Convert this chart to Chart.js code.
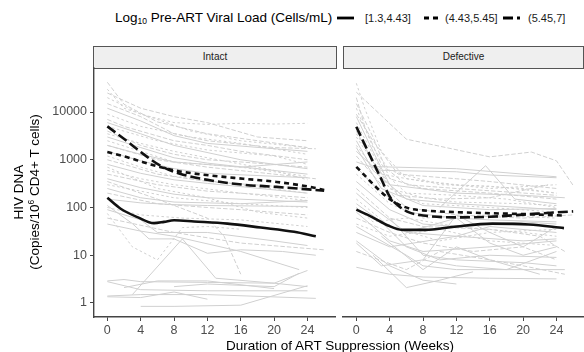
<!DOCTYPE html>
<html>
<head>
<meta charset="utf-8">
<script src="https://cdn.jsdelivr.net/npm/chart.js@4.4.1/dist/chart.umd.min.js"></script>
<style>
  body { margin: 0; background: #fff; font-family: 'Liberation Sans', Arial, sans-serif; }
  #wrap { position: relative; width: 584px; height: 352px; overflow: hidden; }
  .abs { position: absolute; white-space: nowrap; }
  .strip { position: absolute; box-sizing: border-box; background: #efefef; border: 1.5px solid #555;
           font-size: 10px; color: #1a1a1a; text-align: center; line-height: 19px; }
  .lg { position: absolute; top: 12px; font-size: 11px; color: #1a1a1a; line-height: 13px; }
  .ytitle { position: absolute; font-size: 13.5px; color: #000; transform: translate(-50%, -50%) rotate(-90deg); white-space: nowrap; }
  sub, sup { font-size: 8.5px; }
  sub { vertical-align: -2px; }
  sup { vertical-align: 5px; }
</style>
</head>
<body>
<div id="wrap">
  <div class="abs" style="left:115px;top:10px;font-size:13.5px;color:#000;">Log<sub>10</sub> Pre-ART Viral Load (Cells/mL)</div>
  <svg class="abs" style="left:337px;top:13px" width="17" height="10"><line x1="0" y1="5" x2="17" y2="5" stroke="#000" stroke-width="2.8"/></svg>
  <div class="lg" style="left:365px">[1.3,4.43]</div>
  <svg class="abs" style="left:424px;top:13px" width="17" height="10"><line x1="0" y1="5" x2="17" y2="5" stroke="#000" stroke-width="2.8" stroke-dasharray="5 4"/></svg>
  <div class="lg" style="left:445px">(4.43,5.45]</div>
  <svg class="abs" style="left:503px;top:13px" width="17" height="10"><line x1="0" y1="5" x2="17" y2="5" stroke="#000" stroke-width="2.8" stroke-dasharray="10 4"/></svg>
  <div class="lg" style="left:528px">(5.45,7]</div>

  <div class="strip" style="left:93px;top:46px;width:244px;height:23px;">Intact</div>
  <div class="strip" style="left:343px;top:46px;width:241px;height:23px;">Defective</div>

  <canvas id="intactChart" class="abs" style="left:0;top:66px" width="337" height="274"></canvas>
  <canvas id="defectiveChart" class="abs" style="left:341px;top:66px" width="243" height="274"></canvas>

  <div class="ytitle" style="left:18px;top:192px">HIV DNA</div>
  <div class="ytitle" style="left:34px;top:192px">(Copies/10<sup>6</sup> CD4+ T cells)</div>
  <div class="abs" style="left:340px;top:345px;transform:translate(-50%,-50%);font-size:13.5px;color:#000;">Duration of ART Suppression (Weeks)</div>
</div>

<script>
const vlGroups = ['[1.3,4.43]', '(4.43,5.45]', '(5.45,7]'];
const xTicks = [0, 4, 8, 12, 16, 20, 24];
const yTicks = [1, 10, 100, 1000, 10000];

// individual participants, [week, copies] pairs
const intactLow = [
  [[0,12000],[4,6500],[8,3200],[12,2200],[24,1500]],
  [[0,6000],[4,3500],[8,2000],[16,1000],[24,650]],
  [[0,3000],[4,1800],[8,1100],[12,850],[24,500]],
  [[0,1500],[4,950],[8,650],[12,520],[24,420]],
  [[0,800],[4,520],[8,380],[12,320],[24,200]],
  [[0,400],[4,260],[8,190],[12,160],[24,130]],
  [[0,150],[4,125],[8,115],[12,110],[24,105]],
  [[0,110],[3,46],[5,22],[8,22],[12,11],[16,13],[21,12],[25,10]],
  [[3,1.5],[9,22],[13,3.3],[20,2.6],[24,4.8]],
  [[0,45],[4,32],[8,25],[16,12],[23,5]],
  [[0,2.9],[2,3.1],[4,2.8],[12,2.7],[20,2.6],[24,2.2]],
  [[0,1.35],[4,1.3],[8,1.7],[12,1.2]],
  [[0,2.8],[4,1.9],[12,1.8],[24,1.8]],
  [[2,2.1],[6,2.9],[12,2.9],[20,2.0]],
  [[4,0.85],[8,0.85],[16,0.9],[24,2.3]],
  [[0,1.4],[4,1.5],[12,1.5],[25,1.25]],
  [[8,2.2],[12,2.5],[20,2.2],[23,4.2]],
  [[0,90],[4,55],[6,30],[12,30],[20,20],[24,16]],
  [[0,250],[4,160],[8,130],[16,120],[24,140]],
  [[0,2000],[4,1300],[8,900],[16,700],[24,900]]
];
const intactMid = [
  [[0,20000],[4,9000],[8,6000],[12,5500],[16,5800],[20,5600],[24,5800]],
  [[0,9000],[4,5000],[10,3000],[16,2200],[24,1300]],
  [[0,5000],[6,2500],[12,1600],[20,1200],[24,800]],
  [[0,2500],[4,1500],[8,900],[16,700],[24,450]],
  [[0,1200],[4,700],[8,450],[16,300],[24,200]],
  [[0,600],[4,400],[8,300],[16,200],[24,140]],
  [[0,300],[4,220],[8,160],[16,120],[24,100]],
  [[0,75],[3,15],[6,8],[9,38],[12,40],[16,35]],
  [[0,100],[4,70],[9,60],[16,55],[24,40]],
  [[0,30000],[2,12000],[6,7000],[10,4000],[16,2500],[24,1800]],
  [[0,3500],[4,2200],[8,1500],[12,1100],[20,600],[24,380]],
  [[0,700],[6,250],[12,160],[18,80],[24,60]]
];
const intactHigh = [
  [[0,42000],[2,14500],[6,6200],[12,3500],[24,1800]],
  [[0,15000],[4,8000],[8,3500],[12,2500],[20,1800],[25,1700]],
  [[0,7000],[2,5000],[8,2500],[12,2000],[16,1500],[24,1000]],
  [[0,4000],[4,2000],[8,1300],[12,1000],[16,900],[24,700]],
  [[0,2000],[6,1000],[12,700],[20,500],[25,400]],
  [[0,1000],[2,800],[6,500],[12,350],[24,250]],
  [[0,500],[6,300],[12,220],[20,180],[24,160]],
  [[0,200],[6,120],[12,100],[16,90],[24,70]],
  [[0,350],[6,150],[12,60],[14,25],[16,4]],
  [[0,60],[8,30],[16,18],[26,13]],
  [[0,25000],[4,12000],[8,8000],[12,6000],[18,3000],[24,2500]]
];

const defectiveLow = [
  [[0,1500],[2,720],[12,650],[20,500],[24,440]],
  [[0,900],[3,600],[12,560],[16,480],[24,420]],
  [[10,100],[15.5,750],[19,150],[24,120]],
  [[0,8000],[2,1500],[4,300],[12,200],[20,180],[25,160]],
  [[0,2500],[2,600],[6,150],[12,120],[20,100],[24,90]],
  [[0,700],[2,300],[6,80],[12,60],[16,55],[24,50]],
  [[0,350],[4,90],[8,45],[12,40],[20,50],[24,45]],
  [[0,200],[2,100],[6,30],[12,25],[20,20],[24,22]],
  [[0,120],[3,50],[6,15],[10,8],[16,10],[24,9]],
  [[0,80],[4,20],[8,12],[16,15],[24,20]],
  [[0,40],[6,10],[8,6],[12,5],[20,5],[25,5]],
  [[0,5.6],[4,4],[8,3.5],[16,3.3],[24,3.2]],
  [[2,10],[6,2.1],[10,3],[14,4.5]],
  [[0,20],[4,6],[8,3],[12,2.5]],
  [[4,60],[8,10],[12,8],[20,7],[24,6]],
  [[6,30],[12,60],[16,18],[20,10],[24,15]],
  [[0,30],[4,15],[12,25],[16,40],[24,30]],
  [[3,25],[8,5],[12,15],[16,8],[22,4]],
  [[0,1800],[3,250],[8,110],[16,90],[24,95]],
  [[8,8],[12,70],[16,30],[20,15],[24,40]],
  [[0,18],[3,6],[8,8],[12,6],[18,5],[24,12]]
];
const defectiveMid = [
  [[0,40000],[1,12000],[3,1500],[6,400],[12,300],[20,250],[24,200]],
  [[0,3000],[3,500],[8,350],[16,250],[24,300]],
  [[0,6000],[3,600],[6,200],[12,180],[18,150],[24,100]],
  [[0,2000],[4,250],[8,120],[16,100],[24,80]],
  [[0,500],[4,120],[8,60],[16,70],[24,60]],
  [[0,150],[4,40],[10,20],[16,30],[24,35]],
  [[0,100],[2,50],[6,60],[12,40],[20,30],[24,25]],
  [[0,3500],[2,1000],[4,250],[8,160],[12,130],[20,120],[24,110]],
  [[0,45],[4,25],[10,35],[16,20],[24,16]],
  [[0,12000],[2,1800],[4,600],[10,300],[16,280],[24,200]]
];
const defectiveHigh = [
  [[0,26000],[6,2700],[16,1150],[21,1450],[24,950],[26,290]],
  [[0,15000],[2,3000],[4,400],[8,250],[16,200],[24,150]],
  [[0,4000],[2,900],[5,180],[10,150],[16,160],[23,300]],
  [[0,1200],[3,300],[6,100],[12,70],[20,60],[26,70]],
  [[0,250],[4,60],[8,40],[16,35],[22,25],[25,12]],
  [[0,60],[4,30],[8,18],[14,12],[20,15],[24,8]],
  [[0,9000],[2,2500],[5,500],[12,400],[16,350],[24,250]],
  [[0,12],[6,5],[10,12],[16,8],[20,6],[25,4]],
  [[0,20000],[1,5000],[3,800],[6,300],[12,250],[24,180]]
];

// smoothed group means
const intactFitLow = [[0,160],[1.6,94],[3.6,63],[5.6,47],[6.8,50],[8,54],[10.4,51],[14.4,46],[18.4,38],[22.4,31],[25,25]];
const intactFitMid = [[0,1450],[2.3,1140],[4.3,890],[6.3,705],[8.7,570],[12.3,470],[16.3,400],[20.3,343],[24.3,270],[26,232]];
const intactFitHigh = [[0,5000],[2.3,2500],[4.3,1330],[6.3,760],[8.7,510],[12.3,372],[16.3,300],[20.3,270],[26,225]];
const defectiveFitLow = [[0,90],[1.9,63],[3.8,42],[5.5,34],[8.3,34],[11.5,39],[16.3,46],[20.7,44],[24.9,37]];
const defectiveFitMid = [[0,710],[1,470],[2,310],[3,210],[4,150],[5,118],[6.4,95],[8,87],[12,80],[16,76],[20,73],[24.7,68]];
const defectiveFitHigh = [[0,4900],[1,2100],[2,900],[3,390],[4,170],[5,110],[6.4,78],[8,68],[12,62],[16,64],[20,71],[24,79],[26,83]];

const dashes = [[], [5, 4], [10, 4]];
const greyDashes = [[], [2.5, 2.5], [4.5, 2]];
const font = "'Liberation Sans', Arial, sans-serif";

function toXY(pts) { return pts.map(([x, y]) => ({ x: x, y: y })); }

function greyLines(groups) {
  const out = [];
  groups.forEach((traces, g) => {
    traces.forEach(t => out.push({
      label: vlGroups[g], data: toXY(t), borderColor: '#d0d0d0', borderWidth: 1,
      borderDash: greyDashes[g], pointRadius: 0, tension: 0, order: 2
    }));
  });
  return out;
}

function fitLines(fits) {
  return fits.map((f, g) => ({
    label: vlGroups[g], data: toXY(f), borderColor: '#111', borderWidth: 2.6,
    borderDash: dashes[g], pointRadius: 0, cubicInterpolationMode: 'monotone', order: 1
  }));
}

function scales(showY) {
  return {
    x: {
      type: 'linear', min: -1.6, max: 27.3,
      afterBuildTicks: s => { s.ticks = xTicks.map(v => ({ value: v })); },
      afterFit: s => { s.height = 23; s.paddingLeft = 0; s.paddingRight = 0; },
      ticks: { color: '#4d4d4d', font: { size: 12.5, family: font }, padding: 2, maxRotation: 0, autoSkip: false, callback: v => String(v) },
      grid: { drawOnChartArea: false, drawTicks: true, tickLength: 4, color: '#444', tickWidth: 1 },
      border: { display: true, color: '#444', width: 1.4 }
    },
    y: {
      type: 'logarithmic', min: 0.509, max: 83500, display: showY,
      afterBuildTicks: s => { s.ticks = yTicks.map(v => ({ value: v })); },
      afterFit: s => { s.width = showY ? 94 : 0; s.paddingTop = 0; s.paddingBottom = 0; },
      ticks: { color: '#4d4d4d', font: { size: 12.5, family: font }, padding: 3, autoSkip: false, callback: v => String(v) },
      grid: { drawOnChartArea: false, drawTicks: true, tickLength: 4, color: '#444', tickWidth: 1 },
      border: { display: true, color: '#444', width: 1.4 }
    }
  };
}

function panel(id, greys, fits, showY, padding) {
  new Chart(document.getElementById(id), {
    type: 'line',
    data: { datasets: fitLines(fits).concat(greyLines(greys)) },
    options: {
      responsive: false, animation: false, devicePixelRatio: 1, events: [],
      layout: { padding: padding },
      plugins: { legend: { display: false }, tooltip: { enabled: false } },
      scales: scales(showY)
    }
  });
}

panel('intactChart', [intactLow, intactMid, intactHigh], [intactFitLow, intactFitMid, intactFitHigh], true,
  { top: 2, right: 2, left: 0, bottom: 0 });
panel('defectiveChart', [defectiveLow, defectiveMid, defectiveHigh], [defectiveFitLow, defectiveFitMid, defectiveFitHigh], false,
  { top: 2, right: 0, left: 2, bottom: 0 });
</script>
</body>
</html>
